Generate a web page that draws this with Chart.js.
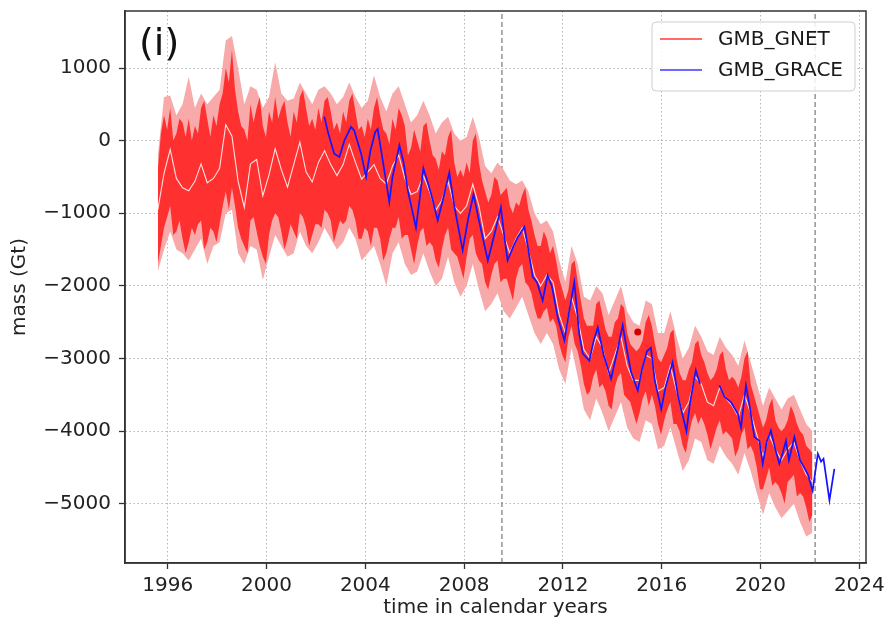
<!DOCTYPE html>
<html>
<head>
<meta charset="utf-8">
<script src="https://cdn.jsdelivr.net/npm/chart.js@4.4.1/dist/chart.umd.min.js"></script>
<style>
  html, body { margin: 0; padding: 0; background: #fff; }
  #wrap { width: 887px; height: 628px; }
</style>
</head>
<body>
<div id="wrap"><canvas id="massChart" width="887" height="628"></canvas></div>
<script>
// GNET series start in 1995.6; mean and uncertainty every quarter year,
// the daily spread envelope every eighth of a year
const gnetStart = 1995.6;
const gnetStep = 0.25;
const spreadStep = 0.125;

// smoothed GNET mass (white line)
const gnetMean = [
  -950, -450, -120, -520, -650, -690, -560, -320, -580, -520,
  -380, 220, 60, -560, -920, -320, -260, -760, -470, -110,
  -400, -640, -330, -20, -430, -570, -300, -140, -330, -480,
  -330, -50, -300, -530, -430, -330, -520, -600, -350, -200,
  -520, -740, -700, -480, -700, -960, -820, -560, -900, -1000,
  -900, -600, -900, -1350, -1250, -1050, -1300, -1550, -1350, -1200,
  -1500, -1850, -2000, -1850, -1950, -2400, -2650, -2150, -2450, -2880,
  -3000, -2700, -2850, -3200, -2950, -2700, -3100, -3300, -3300, -2950,
  -3000, -3450, -3400, -3100, -3450, -3750, -3600, -3250, -3350, -3600,
  -3650, -3400, -3550, -3650, -3800, -3500, -3750, -4050, -4350, -4050,
  -4250, -4400, -4250, -4150, -4400, -4600, -4700
];

// daily GNET spread (red) upper / lower envelope
const gnetHigh = [
  -400, 100, 350, 150, 450, 0, 100, 300, 250, 50,
  300, 0, 200, 100, 450, 550, 300, 50, 350, 200,
  500, 650, 1000, 800, 1250, 700, 400, 200, 150, 0,
  500, 250, 450, 600, 200, 50, 400, 250, 600, 300,
  450, 550, 250, 50, 400, 250, 600, 700, 450, 200,
  300, 150, 450, 250, 550, 600, 400, 150, 250, 100,
  400, 250, 550, 650, 400, 150, 200, 50, 300, 150,
  450, 600, 350, 150, 100, -50, 300, 150, 450, 350,
  200, -200, -100, 150, 0, -150, 200, 250, 0, -200,
  -250, -400, -150, -200, 50, 150, -300, -500, -400, -500,
  -300, -450, 0, 100, -300, -550, -700, -850, -750, -500,
  -550, -750, -700, -650, -900, -1000, -850, -900, -750, -650,
  -950, -1100, -1300, -1450, -1450, -1250, -1350, -1550, -1450, -1650,
  -1900, -2050, -2200, -2050, -1700, -1650, -1950, -2200, -2450, -2550,
  -2550, -2550, -2250, -2200, -2400, -2600, -2700, -2700, -2500, -2450,
  -2250, -2300, -2650, -2800, -2850, -2900, -2850, -2750, -2500, -2400,
  -2550, -2800, -3000, -3050, -2950, -2850, -2650, -2600, -3000, -3200,
  -3300, -3300, -3150, -3050, -2800, -2750, -2950, -3050, -3200, -3300,
  -3250, -3150, -2950, -2900, -3150, -3300, -3250, -3300, -3400, -3250,
  -3000, -2900, -3350, -3500, -3650, -3800, -3950, -3850, -3650, -3550,
  -3850, -3950, -4000, -3950, -3850, -3650, -3750, -3900, -4000, -4050,
  -4200, -4250, -4300
];
const gnetLow = [
  -1700, -1450, -1200, -1050, -900, -1300, -1250, -1100, -1350, -1550,
  -1400, -1200, -1300, -1150, -1100, -1500, -1400, -1200, -1250, -1400,
  -1150, -900, -700, -950, -650, -900, -1200, -1350, -1450, -1550,
  -1100, -1050, -1250, -1450, -1600, -1700, -1300, -1100, -1000, -1050,
  -1250, -1500, -1350, -1150, -1250, -1350, -1000, -1050, -1200, -1450,
  -1300, -1150, -1150, -1200, -950, -1000, -1100, -1400, -1250, -1100,
  -1150, -1100, -900, -950, -1100, -1350, -1350, -1200, -1250, -1450,
  -1200, -1200, -1350, -1650, -1550, -1350, -1200, -1200, -1050, -1350,
  -1300, -1300, -1500, -1700, -1450, -1250, -1200, -1450, -1400, -1450,
  -1650, -1750, -1500, -1300, -1200, -1500, -1550, -1600, -1750, -1900,
  -1600, -1350, -1300, -1550, -1650, -1700, -1950, -2050, -1850, -1700,
  -1650, -1950, -1900, -1900, -2050, -2200, -1900, -1750, -1700, -1950,
  -2000, -2100, -2300, -2450, -2450, -2350, -2300, -2500, -2450, -2550,
  -2800, -2950, -3050, -2700, -2550, -2800, -2900, -3100, -3350, -3500,
  -3450, -3250, -3150, -3400, -3350, -3450, -3650, -3700, -3400, -3250,
  -3200, -3500, -3550, -3600, -3750, -3900, -3750, -3550, -3450, -3650,
  -3500, -3650, -3900, -4050, -3850, -3700, -3600, -3900, -3900, -4000,
  -4200, -4300, -4050, -3850, -3750, -3900, -3800, -3900, -4050, -4250,
  -4100, -3950, -3850, -4050, -4000, -4050, -4100, -4350, -4250, -4050,
  -3950, -4250, -4200, -4300, -4500, -4800, -4800, -4650, -4500, -4750,
  -4700, -4750, -4850, -5000, -4700, -4650, -4600, -4900, -4850, -4900,
  -5050, -5250, -5150
];

// GNET uncertainty (pink) upper / lower
const gnetErrHigh = [
  -200, 600, 620, 350, 500, 880, 450, 650, 500, 600,
  700, 1380, 1440, 1000, 500, 750, 700, 450, 600, 1080,
  650, 550, 580, 800, 650, 500, 700, 750, 650, 500,
  600, 800, 600, 450, 550, 900, 600, 400, 650, 750,
  500, 250, 350, 550, 350, 100, 250, 330, 100, 0,
  50, 330, 50, -350, -450, -300, -400, -550, -600, -550,
  -700, -1000, -1150, -1100, -1250, -1650, -1950, -1450, -1700, -2150,
  -2200, -2000, -2100, -2400, -2200, -2000, -2350, -2500, -2550, -2200,
  -2250, -2650, -2650, -2350, -2700, -3000, -2850, -2550, -2700, -2900,
  -2950, -2700, -2850, -2950, -3100, -2750, -3050, -3350, -3650, -3400,
  -3550, -3700, -3550, -3500, -3700, -3900, -4000
];
const gnetErrLow = [
  -1800, -1500, -1250, -1500, -1550, -1650, -1500, -1350, -1700, -1450,
  -1400, -1000, -950, -1550, -1700, -1450, -1500, -1920, -1600, -1300,
  -1450, -1600, -1550, -1250, -1450, -1550, -1400, -1200, -1350, -1500,
  -1400, -1200, -1350, -1650, -1550, -1450, -1700, -2000, -1550, -1400,
  -1700, -1850, -1800, -1550, -1800, -2000, -1900, -1600, -1950, -2150,
  -2000, -1700, -2050, -2350, -2250, -2100, -2350, -2450, -2300, -2150,
  -2400, -2650, -2800, -2650, -2800, -3150, -3350, -2850, -3250, -3700,
  -3850, -3550, -3750, -4000, -3800, -3600, -3950, -4100, -4150, -3850,
  -3900, -4250, -4200, -3950, -4250, -4550, -4400, -4100, -4150, -4400,
  -4450, -4200, -4350, -4450, -4600, -4300, -4550, -4850, -5150, -4850,
  -5050, -5200, -5100, -5000, -5250, -5450, -5400
];

// GRACE series (null = mission gap)
const graceYears = [
  2002.34, 2002.50, 2002.74, 2002.95, 2003.15, 2003.42, 2003.55, 2003.83, 2004.03, 2004.20,
  2004.40, 2004.50, 2004.77, 2004.97, 2005.10, 2005.38, 2005.55, 2005.72, 2006.05, 2006.20,
  2006.35, 2006.55, 2006.73, 2006.93, 2007.15, 2007.40, 2007.60, 2007.94, 2008.15, 2008.38,
  2008.60, 2008.96, 2009.20, 2009.49, 2009.62, 2009.76, 2010.00, 2010.17, 2010.44, 2010.60,
  2010.78, 2010.95, 2011.18, 2011.38, 2011.55, 2011.80, 2012.06, 2012.25, 2012.46, 2012.66,
  2012.80, 2013.07, 2013.25, 2013.41, 2013.65, 2013.95, 2014.20, 2014.42, 2014.60, 2014.76,
  2015.03, 2015.20, 2015.40, 2015.56, 2015.72, 2015.98, 2016.15, 2016.44, 2016.65, 2017.00,
  2017.15, 2017.38, 2017.55, 2017.95, 2018.33, 2018.55, 2018.80, 2019.08, 2019.21, 2019.41,
  2019.58, 2019.75, 2019.95, 2020.09, 2020.25, 2020.42, 2020.60, 2020.76, 2020.90, 2021.03,
  2021.15, 2021.37, 2021.60, 2021.91, 2022.11, 2022.32, 2022.45, 2022.55, 2022.79, 2022.99
];
const graceMass = [
  330, 100, -180, -225, 0, 190, 140, -180, -500, -150,
  120, 160, -410, -845, -500, -65, -300, -685, -1200, -800,
  -380, -600, -820, -1100, -800, -440, -900, -1510, -1100, -740,
  -1100, -1650, -1330, -920, -1300, -1650, -1450, -1330, -1190, -1500,
  -1880, -1950, -2200, -1855, -2000, -2450, -2750, -2350, -1950, -2660,
  -2930, -3030, -2750, -2570, -2950, -3280, -2900, -2540, -2900, -3190,
  -3440, -3150, -2900, -2850, -3300, -3700, -3400, -3050, -3500, -4000,
  -3600, -3160, -3350, null, -3370, -3530, -3600, -3760, -3950, -3370,
  -3700, -4080, -4130, -4450, -4150, -3990, -4250, -4450, -4300, -4130,
  -4400, -4080, -4400, -4590, -4820, -4310, -4420, -4380, -4950, -4520
];

// single highlighted GNET point
const markerYear = [2015.03];
const markerMass = [-2635];

// vertical reference lines
const dashedYears = [2009.53, 2022.21];

const tickYears = [1996, 2000, 2004, 2008, 2012, 2016, 2020, 2024];
const tickMass = [-5000, -4000, -3000, -2000, -1000, 0, 1000];
const xRange = [1994.27, 2024.27];
const yRange = [-5815, 1785];

const legendItems = [
  { label: 'GMB_GNET', color: '#ff3a3a', width: 1.3 },
  { label: 'GMB_GRACE', color: '#3a3aff', width: 1.7 }
];

const FONT = "'DejaVu Sans', sans-serif";

const toPoints = (xs, ys) => ys.map((y, i) => ({ x: xs[i], y: y }));
const gnetYears = gnetMean.map((_, i) => gnetStart + i * gnetStep);
const spreadYears = gnetHigh.map((_, i) => gnetStart + i * spreadStep);

const bandStyle = { pointRadius: 0, borderWidth: 0, tension: 0 };

const datasets = [
  {
    label: 'gnet_err_hi', data: toPoints(gnetYears, gnetErrHigh),
    fill: '+1', backgroundColor: '#f8a9a9', borderColor: 'transparent', order: 8, ...bandStyle
  },
  {
    label: 'gnet_err_lo', data: toPoints(gnetYears, gnetErrLow),
    fill: false, borderColor: 'transparent', order: 8, ...bandStyle
  },
  {
    label: 'gnet_hi', data: toPoints(spreadYears, gnetHigh),
    fill: '+1', backgroundColor: 'rgba(255, 28, 28, 0.86)', borderColor: 'transparent', order: 6, ...bandStyle
  },
  {
    label: 'gnet_lo', data: toPoints(spreadYears, gnetLow),
    fill: false, borderColor: 'transparent', order: 6, ...bandStyle
  },
  {
    label: 'gnet_mean', data: toPoints(gnetYears, gnetMean),
    borderColor: 'rgba(255, 255, 255, 0.85)', borderWidth: 1.1, pointRadius: 0, fill: false, order: 4
  },
  {
    label: 'GMB_GRACE', data: toPoints(graceYears, graceMass),
    borderColor: '#1414ff', borderWidth: 1.7, pointRadius: 0, fill: false, spanGaps: false, order: 3
  },
  {
    label: 'marker', data: toPoints(markerYear, markerMass),
    showLine: false, pointRadius: 3.5, pointBackgroundColor: '#d40000', pointBorderWidth: 0, order: 2
  }
];

dashedYears.forEach(yr => {
  datasets.push({
    label: 'ref', data: [{ x: yr, y: yRange[0] }, { x: yr, y: yRange[1] }],
    borderColor: '#7a7a7a', borderWidth: 1.2, borderDash: [5, 3], pointRadius: 0, fill: false, order: 10
  });
});

// frame, panel label and legend box drawn on top
const decorPlugin = {
  id: 'decor',
  afterDraw(chart) {
    const { ctx, chartArea: a } = chart;
    ctx.save();
    ctx.strokeStyle = '#333';
    ctx.lineWidth = 1.5;
    ctx.strokeRect(a.left, a.top, a.right - a.left, a.bottom - a.top);

    ctx.fillStyle = '#111';
    ctx.font = '38px ' + FONT;
    ctx.textBaseline = 'alphabetic';
    ctx.textAlign = 'left';
    ctx.fillText('(i)', a.left + 14, a.top + 44);

    // legend
    const bx = a.right - 214, by = a.top + 11, bw = 203, bh = 69;
    ctx.beginPath();
    ctx.roundRect(bx, by, bw, bh, 4);
    ctx.fillStyle = 'rgba(255,255,255,0.85)';
    ctx.fill();
    ctx.strokeStyle = '#cfcfcf';
    ctx.lineWidth = 1;
    ctx.stroke();
    ctx.font = '20px ' + FONT;
    ctx.textBaseline = 'middle';
    legendItems.forEach((item, i) => {
      const ly = by + 17 + i * 31;
      ctx.beginPath();
      ctx.moveTo(bx + 8, ly);
      ctx.lineTo(bx + 50, ly);
      ctx.strokeStyle = item.color;
      ctx.lineWidth = item.width;
      ctx.stroke();
      ctx.fillStyle = '#1a1a1a';
      ctx.fillText(item.label, bx + 66, ly + 1);
    });
    ctx.restore();
  }
};

const minusFmt = v => (v < 0 ? '\u2212' + Math.abs(v) : String(v));

new Chart(document.getElementById('massChart'), {
  type: 'line',
  data: { datasets: datasets },
  plugins: [decorPlugin],
  options: {
    responsive: false,
    animation: false,
    events: [],
    layout: { padding: { top: 11, right: 21, left: 0, bottom: 0 } },
    plugins: {
      legend: { display: false },
      tooltip: { enabled: false }
    },
    scales: {
      x: {
        type: 'linear',
        min: xRange[0],
        max: xRange[1],
        afterBuildTicks: s => { s.ticks = tickYears.map(v => ({ value: v })); },
        afterFit: s => { s.height = 65; s.paddingLeft = 0; s.paddingRight = 0; },
        grid: { color: '#b5b5b5', lineWidth: 1, tickColor: '#333', tickLength: 6, tickWidth: 1.3 },
        border: { color: '#333', width: 1.5, dash: [1.5, 2.5] },
        ticks: {
          color: '#222', font: { family: FONT, size: 20 }, padding: 5, maxRotation: 0,
          callback: v => String(v)
        },
        title: {
          display: true, text: 'time in calendar years', color: '#222',
          font: { family: FONT, size: 20 }, padding: { top: 0, bottom: 8 }
        }
      },
      y: {
        type: 'linear',
        min: yRange[0],
        max: yRange[1],
        afterBuildTicks: s => { s.ticks = tickMass.map(v => ({ value: v })); },
        afterFit: s => { s.width = 125; s.paddingTop = 0; s.paddingBottom = 0; },
        grid: { color: '#b5b5b5', lineWidth: 1, tickColor: '#333', tickLength: 6, tickWidth: 1.3 },
        border: { color: '#333', width: 1.5, dash: [1.5, 2.5] },
        ticks: {
          color: '#222', font: { family: FONT, size: 20 }, padding: 8,
          callback: v => minusFmt(v)
        },
        title: {
          display: true, text: 'mass (Gt)', color: '#222',
          font: { family: FONT, size: 20 }, padding: { top: 8, bottom: 0 }
        }
      }
    }
  }
});
</script>
</body>
</html>
